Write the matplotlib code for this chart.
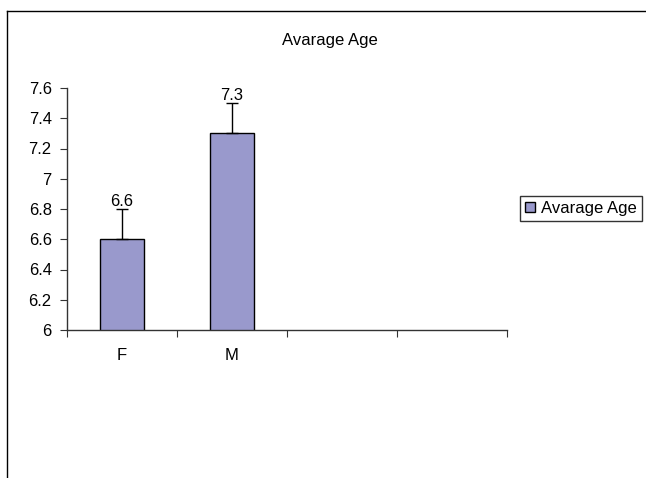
import matplotlib
matplotlib.use("Agg")
import matplotlib.pyplot as plt
from matplotlib.lines import Line2D
import numpy as np

plt.rcParams['font.family'] = ['Liberation Sans', 'DejaVu Sans']

categories = ["F", "M", "", ""]
values = [6.6, 7.3]
errors_up = [0.2, 0.2]
labels = ["6.6", "7.3"]
title = "Avarage Age"
yticks = [6, 6.2, 6.4, 6.6, 6.8, 7, 7.2, 7.4, 7.6]
ytick_labels = ["6", "6.2", "6.4", "6.6", "6.8", "7", "7.2", "7.4", "7.6"]

FS = 12
W, H = 646, 478
fig = plt.figure(figsize=(W / 100, H / 100), dpi=100)

# outer frame (left and top lines)
fig.add_artist(Line2D([7 / W, 7 / W], [0, 1 - 11 / H], color='black', lw=1, transform=fig.transFigure))
fig.add_artist(Line2D([7 / W, 1], [1 - 11 / H, 1 - 11 / H], color='black', lw=1, transform=fig.transFigure))

ax_l, ax_r, ax_t, ax_b = 67, 507, 88, 330
ax = fig.add_axes([ax_l / W, 1 - ax_b / H, (ax_r - ax_l) / W, (ax_b - ax_t) / H])

x = np.arange(len(values))
bars = ax.bar(x, values, width=0.4, bottom=0, color='#9999CC', edgecolor='black', linewidth=1,
              label=title, zorder=2)
ax.errorbar(x, values, yerr=[[0] * len(values), errors_up], fmt='none', ecolor='black',
            elinewidth=1, capsize=4.5, capthick=1, zorder=3)
for xi, v, e, lab in zip(x, values, errors_up, labels):
    ax.text(xi, v + e + 0.003, lab, ha='center', va='bottom', fontsize=FS)

ax.set_xlim(-0.5, len(categories) - 0.5)
ax.set_ylim(6, 7.6)
ax.set_yticks(yticks)
ax.set_yticklabels(ytick_labels, fontsize=FS)
ax.set_xticks(np.arange(len(categories) + 1) - 0.5)
ax.set_xticklabels([])
ax.set_xticks(np.arange(len(categories)), minor=True)
ax.set_xticklabels(categories, minor=True, fontsize=FS)
ax.tick_params(axis='x', which='minor', length=0, pad=13)
ax.tick_params(axis='x', which='major', length=5, direction='out', color='#333333')
ax.tick_params(axis='y', length=5, direction='out', color='#333333', pad=6)
for s in ['top', 'right']:
    ax.spines[s].set_visible(False)
for s in ['left', 'bottom']:
    ax.spines[s].set_color('#333333')
    ax.spines[s].set_linewidth(1)

fig.text(330 / W, 1 - 41 / H, title, ha='center', va='center', fontsize=FS)

leg = fig.legend(handles=[bars], labels=[title], loc='center', bbox_to_anchor=(581 / W, 1 - 208.5 / H),
                 fontsize=FS, frameon=True, fancybox=False, shadow=False, handlelength=0.6,
                 handleheight=0.6, handletextpad=0.35, borderpad=0.3, borderaxespad=0)
leg.get_frame().set_edgecolor('black')
leg.get_frame().set_linewidth(1)

fig.savefig("out.png", dpi=100)
